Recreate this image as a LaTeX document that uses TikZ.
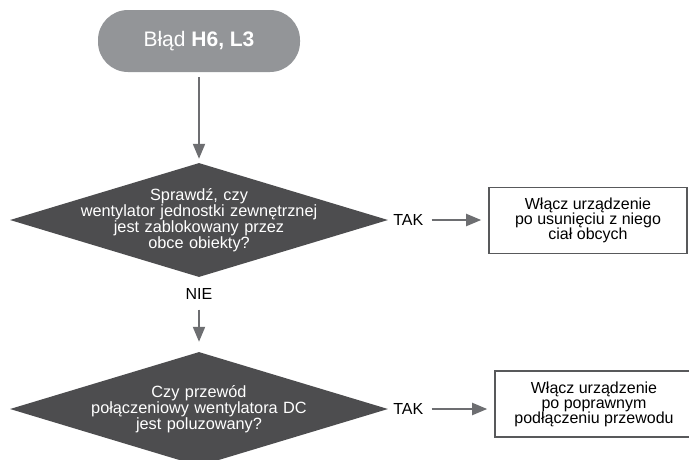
\documentclass[tikz,border=0pt]{standalone}
\usepackage{fontspec}
\setmainfont{Liberation Sans}
\usetikzlibrary{arrows.meta,shapes.geometric,positioning}
\definecolor{startgray}{HTML}{939598}
\definecolor{diagray}{HTML}{4D4D4F}
\definecolor{arrowgray}{HTML}{6D6E71}
\definecolor{boxgray}{HTML}{58595B}
\setlength{\lineskiplimit}{-6pt}
\tikzset{
  term/.style={fill=startgray, rounded corners=30pt, minimum width=202pt,
               minimum height=62pt, text=white, inner sep=0pt,
               font=\fontsize{21}{24}\selectfont},
  decision/.style={diamond, aspect=3.3, fill=diagray, text=white,
                   minimum width=378pt, minimum height=114pt,
                   text width=300pt, inner xsep=-150pt, inner ysep=0pt,
                   align=center, font=\fontsize{16.3}{14.6}\selectfont},
  action/.style={draw=boxgray, line width=1.6pt, minimum width=198pt,
                 minimum height=66pt, align=center, inner sep=2pt,
                 font=\fontsize{16}{15}\selectfont},
  answer/.style={inner sep=0pt, font=\fontsize{16}{17}\selectfont},
  flow/.style={draw=arrowgray, line width=2pt,
               -{Triangle[length=15pt,width=12pt]}},
}

\begin{document}
\begin{tikzpicture}[x=1pt, y=1pt]
\clip (0,0) rectangle (689,-459);

% start
\node[term] (err) at (199,-41) {Błąd \textbf{H6, L3}};

% checks
\node[decision] (q1) at (199,-220)
  {Sprawdź, czy\\wentylator jednostki zewnętrznej\\jest zablokowany przez\\obce obiekty?};
\node[decision] (q2) at (199,-409)
  {Czy przewód\\połączeniowy wentylatora DC\\jest poluzowany?};

% answers
\node[answer, right=5pt of q1] (yes1) {TAK};
\node[answer, right=5pt of q2] (yes2) {TAK};
\node[answer, below=11pt of q1] (no1) {NIE};

% actions
\node[action] (fix1) at (588,-220.5) {Włącz urządzenie\\po usunięciu z niego\\ciał obcych};
\node[action] (fix2) at (594,-404) {Włącz urządzenie\\po poprawnym\\podłączeniu przewodu};

\draw[flow, shorten <=5pt, shorten >=4pt] (err) -- (q1);
\draw[flow, shorten <=10pt, shorten >=10pt] (no1) -- (q2);
\draw[flow, shorten <=8pt, shorten >=7pt] (yes1.east) -- (yes1.east -| fix1.west);
\draw[flow, shorten <=8pt, shorten >=7pt] (yes2.east) -- (yes2.east -| fix2.west);

\end{tikzpicture}
\end{document}
